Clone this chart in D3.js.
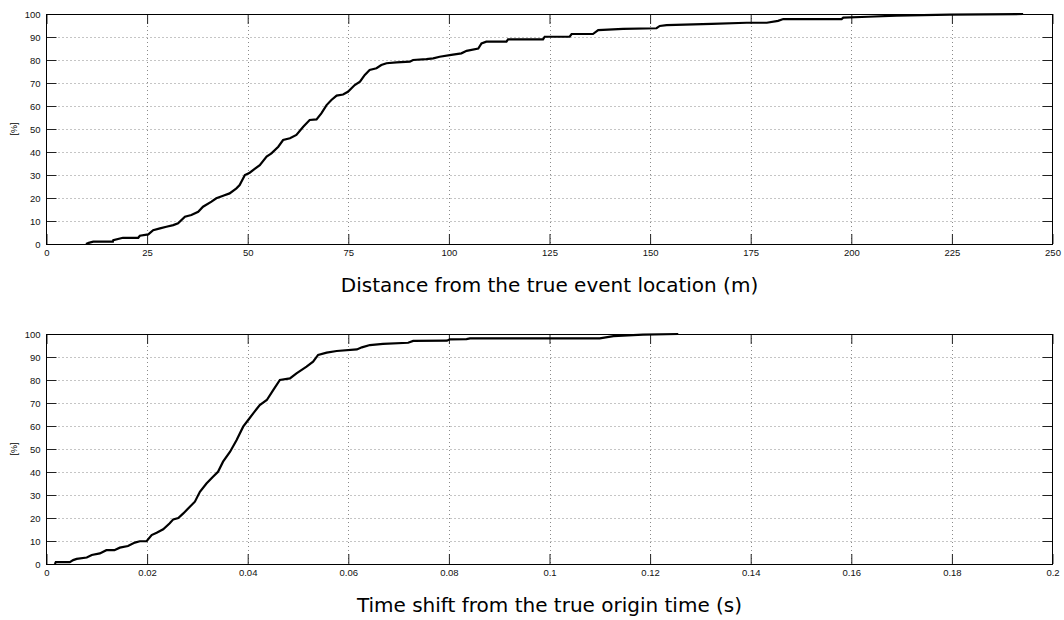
<!DOCTYPE html>
<html>
<head>
<meta charset="utf-8">
<script src="https://cdn.jsdelivr.net/npm/d3@7"></script>
<style>
  html, body { margin: 0; padding: 0; background: #fff; }
  svg { display: block; }
</style>
</head>
<body>
<svg id="chart" width="1064" height="620"></svg>
<script>
// Cumulative distribution of location error (m) and percent of events
const distX = [9.8, 10.5, 11.6, 16.5, 16.6, 19, 22.8, 23.2, 25.3, 26.5, 28.2, 29.8, 31.5, 32.7, 34.4, 36, 37.7, 38.9, 41, 42.2, 43.9, 45.5, 47.2, 48, 49.3, 50.5, 53, 54.7, 55.9, 57.6, 58.8, 60.5, 62.1, 63.8, 65.4, 67.1, 68.3, 69.6, 70.8, 72.1, 73.7, 74.9, 76.6, 77.9, 79.1, 80.3, 82, 83.2, 84.5, 87, 90.3, 91.1, 94.4, 96.1, 97.7, 100.6, 103.1, 104.4, 107.3, 108.1, 109.3, 114.3, 114.7, 123.4, 123.8, 130, 130.5, 135.8, 137.1, 143.3, 151.6, 152.4, 154.1, 165.3, 174, 179, 181.8, 183.1, 197.6, 198, 204.2, 211.2, 224.5, 242.7];
const distPct = [0, 0.5, 1, 1, 1.7, 2.7, 2.7, 3.6, 4.2, 6, 6.8, 7.5, 8.2, 9, 11.9, 12.6, 14, 16.2, 18.4, 19.9, 21, 22, 24.2, 25.6, 30, 31, 34.3, 38, 39.4, 42.3, 45.2, 46, 47.4, 51, 53.9, 54.2, 56.8, 60.4, 62.6, 64.5, 65, 66.2, 69.1, 70.6, 73.5, 75.7, 76.4, 77.8, 78.6, 79, 79.3, 80, 80.4, 80.7, 81.4, 82.2, 82.9, 84, 85, 87.2, 88, 88, 89, 89, 90.1, 90.1, 91.3, 91.3, 93, 93.5, 93.8, 94.8, 95.2, 95.7, 96.2, 96.2, 97, 97.8, 97.8, 98.4, 98.8, 99.3, 99.7, 100];

// Cumulative distribution of origin-time error (s) and percent of events
const timeX = [0.00165, 0.00185, 0.00464, 0.0053, 0.006, 0.008, 0.009, 0.0106, 0.0119, 0.0135, 0.01458, 0.0162, 0.01756, 0.01856, 0.0199, 0.0209, 0.0219, 0.0232, 0.0245, 0.0252, 0.0262, 0.0272, 0.0285, 0.0295, 0.0305, 0.0318, 0.0331, 0.0341, 0.0351, 0.0365, 0.0378, 0.0391, 0.0401, 0.0411, 0.0424, 0.0438, 0.0451, 0.0464, 0.0484, 0.0497, 0.0517, 0.053, 0.054, 0.0557, 0.0577, 0.0617, 0.0627, 0.0643, 0.0669, 0.0719, 0.0729, 0.0796, 0.0802, 0.0835, 0.0842, 0.11, 0.1127, 0.1186, 0.1256];
const timePct = [0, 0.8, 0.8, 1.7, 2.2, 2.8, 3.9, 4.6, 6, 6, 7.1, 7.8, 9.3, 9.9, 9.9, 12.6, 13.6, 15.1, 17.7, 19.4, 20, 22, 24.9, 27.1, 31.4, 35, 37.9, 40.1, 44.5, 48.8, 53.9, 59.7, 62.6, 65.5, 69.1, 71.3, 75.7, 80, 80.7, 82.9, 85.8, 88, 90.9, 91.9, 92.6, 93.3, 94.2, 95.2, 95.7, 96.2, 97, 97.1, 97.7, 97.8, 98.1, 98.1, 99.1, 99.7, 100];

const pctTicks = d3.range(0, 101, 10);
const distTicks = d3.range(0, 251, 25);
const timeTicks = d3.range(0, 0.2001, 0.02);

const svg = d3.select("#chart");
const left = 46.5, right = 1052.5;

function panel(top, bottom, xs, ys, xDomain, xTicks, fmt, title) {
  const x = d3.scaleLinear().domain(xDomain).range([left, right]);
  const y = d3.scaleLinear().domain([0, 100]).range([bottom, top]);
  const g = svg.append("g");

  // dotted grid
  g.append("g").selectAll("line").data(xTicks.slice(1, -1)).join("line")
    .attr("x1", d => Math.round(x(d)) + 0.5).attr("x2", d => Math.round(x(d)) + 0.5)
    .attr("y1", top).attr("y2", bottom)
    .attr("stroke", "#8a8a8a").attr("stroke-width", 1).attr("stroke-dasharray", "1,3");
  g.append("g").selectAll("line").data(pctTicks.slice(1, -1)).join("line")
    .attr("x1", left).attr("x2", right)
    .attr("y1", d => Math.round(y(d)) + 0.5).attr("y2", d => Math.round(y(d)) + 0.5)
    .attr("stroke", "#8a8a8a").attr("stroke-width", 1).attr("stroke-dasharray", "1,3");

  // axes with inward ticks on all four sides
  const tl = 10;
  const ax = d3.axisBottom(x).tickValues(xTicks).tickFormat(fmt).tickSizeInner(-tl).tickSizeOuter(0).tickPadding(5);
  const axT = d3.axisTop(x).tickValues(xTicks).tickFormat("").tickSizeInner(-tl).tickSizeOuter(0);
  const ay = d3.axisLeft(y).tickValues(pctTicks).tickSizeInner(-tl).tickSizeOuter(0).tickPadding(6);
  const ayR = d3.axisRight(y).tickValues(pctTicks).tickFormat("").tickSizeInner(-tl).tickSizeOuter(0);

  const styleAxis = sel => {
    sel.select(".domain").remove();
    sel.selectAll("line").attr("stroke", "#222");
    sel.selectAll("text").attr("font-family", "'Liberation Sans', Arial, sans-serif").attr("font-size", 9.5).attr("fill", "#111");
  };
  g.append("g").attr("transform", `translate(0,${bottom})`).call(ax).call(styleAxis);
  g.append("g").attr("transform", `translate(0,${top})`).call(axT).call(styleAxis);
  g.append("g").attr("transform", `translate(${left},0)`).call(ay).call(styleAxis);
  g.append("g").attr("transform", `translate(${right},0)`).call(ayR).call(styleAxis);

  // frame
  g.append("rect").attr("x", left).attr("y", top + 0.5)
    .attr("width", right - left).attr("height", bottom - top)
    .attr("fill", "none").attr("stroke", "#000").attr("stroke-width", 1);

  // CDF curve
  const line = d3.line().x(d => x(d[0])).y(d => y(d[1]));
  g.append("path").datum(d3.zip(xs, ys))
    .attr("d", line).attr("fill", "none").attr("stroke", "#000")
    .attr("stroke-width", 2.2).attr("stroke-linejoin", "miter");

  // y label
  g.append("text")
    .attr("transform", `translate(17,${(top + bottom) / 2}) rotate(-90)`)
    .attr("text-anchor", "middle")
    .attr("font-family", "'Liberation Sans', Arial, sans-serif").attr("font-size", 9)
    .text("[%]");

  // x title
  g.append("text")
    .attr("x", (left + right) / 2).attr("y", bottom + 48)
    .attr("text-anchor", "middle")
    .attr("font-family", "'DejaVu Sans', sans-serif").attr("font-size", 20)
    .text(title);
}

panel(14, 244, distX, distPct, [0, 250], distTicks, d3.format("d"), "Distance from the true event location (m)");
panel(334, 564, timeX, timePct, [0, 0.2], timeTicks, d => d === 0 ? "0" : d3.format("~g")(+d.toFixed(2)), "Time shift from the true origin time (s)");
</script>
</body>
</html>
